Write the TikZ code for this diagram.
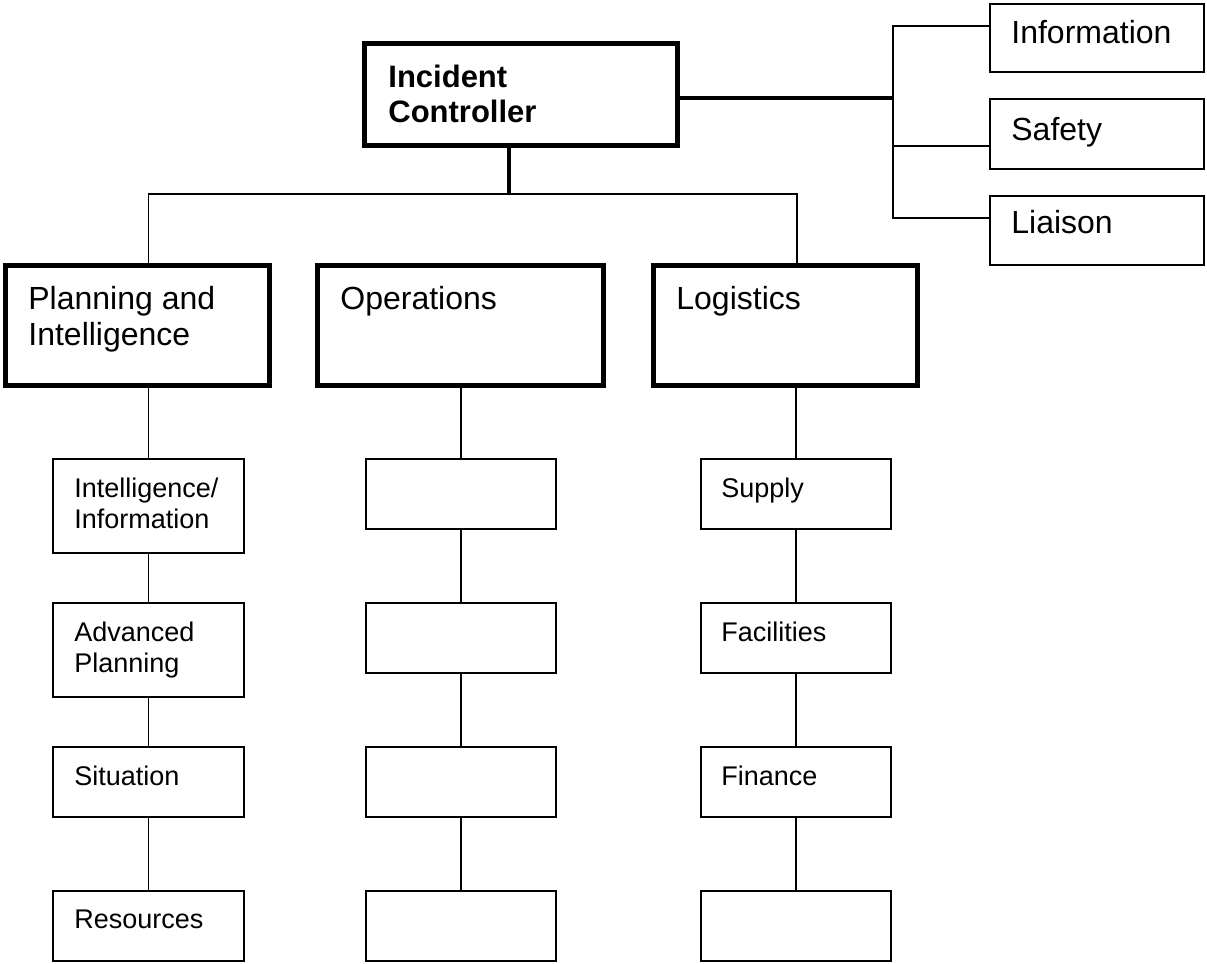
\documentclass[tikz,border=0pt]{standalone}
\usepackage{fontspec}
\setmainfont{Liberation Sans}
\usetikzlibrary{fit}

\tikzset{
  bigbox/.style={draw, line width=2.5pt, inner sep=0pt},
  smallbox/.style={draw, line width=0.75pt, inner sep=0pt},
  bigtxt/.style={anchor=north west, inner sep=0pt, align=left, font=\fontsize{16}{18}\selectfont},
  smalltxt/.style={anchor=north west, inner sep=0pt, align=left, font=\fontsize{13.5}{15.5}\selectfont},
  thin line/.style={line width=0.75pt}
}

\begin{document}
\begin{tikzpicture}[x=0.5pt, y=-0.5pt]
  \useasboundingbox (0,0) rectangle (1207,964);

  % Jefe del incidente
  \node[bigbox, fit={(364.5,43.5) (677.5,145.5)}] (ctrl) {};
  \node[bigtxt, font=\fontsize{15.5}{17.5}\selectfont\bfseries] (ctrl-t) at (388,65) {Incident\\Controller};

  % Cajas a la derecha
  \node[smallbox, fit={(990,4) (1204,72)}] (info) {};
  \node[smallbox, fit={(990,99) (1204,169)}] (safe) {};
  \node[smallbox, fit={(990,196) (1204,265)}] (liai) {};
  \node[bigtxt] (info-t) at (1011,20) {Information};
  \node[bigtxt] (safe-t) at (1011,117) {Safety};
  \node[bigtxt] (liai-t) at (1011,210) {Liaison};

  % Las tres secciones
  \node[bigbox, fit={(5.5,265.5) (269.5,385.5)}] (plan) {};
  \node[bigbox, fit={(317.5,265.5) (603.5,385.5)}] (ops) {};
  \node[bigbox, fit={(653.5,265.5) (917.5,385.5)}] (logi) {};
  \node[bigtxt] (plan-t) at (28,286) {Planning and\\Intelligence};
  \node[bigtxt] (ops-t) at (340,286) {Operations};
  \node[bigtxt] (logi-t) at (676,286) {Logistics};

  % Columna izquierda
  \node[smallbox, fit={(53,459) (244,553)}] (pi1) {};
  \node[smallbox, fit={(53,603) (244,697)}] (pi2) {};
  \node[smallbox, fit={(53,747) (244,817)}] (pi3) {};
  \node[smallbox, fit={(53,891) (244,961)}] (pi4) {};
  \node[smalltxt] (pi1-t) at (74,478) {Intelligence/\\Information};
  \node[smalltxt] (pi2-t) at (74,622) {Advanced\\Planning};
  \node[smalltxt] (pi3-t) at (74,766) {Situation};
  \node[smalltxt] (pi4-t) at (74,910) {Resources};

  % Columnas central y derecha
  \foreach \i/\t in {1/459, 2/603, 3/747, 4/891} {
    \node[smallbox, fit={(366,\t) (556,\t+70)}] (op\i) {};
    \node[smallbox, fit={(701,\t) (891,\t+70)}] (lg\i) {};
  }
  \node[smalltxt] (lg1-t) at (721,478) {Supply};
  \node[smalltxt] (lg2-t) at (721,622) {Facilities};
  \node[smalltxt] (lg3-t) at (721,766) {Finance};

  % Lineas
  \coordinate (busL) at (148.5,194);
  \coordinate (busC) at (509,194);
  \coordinate (busR) at (797,194);
  \draw[line width=1.6pt] (ctrl.south -| busC) -- (busC);
  \draw[thin line] (busL |- plan.north) -- (busL) -- (busR) -- (busR |- logi.north);

  \coordinate (side) at (893,98);
  \coordinate (sideT) at (893,26);
  \coordinate (sideM) at (893,146);
  \coordinate (sideB) at (893,218);
  \draw[line width=2pt] (ctrl.east |- side) -- (side);
  \draw[thin line] (sideT -| info.west) -- (sideT) -- (sideB) -- (sideB -| liai.west);
  \draw[thin line] (sideM) -- (sideM -| safe.west);

  \foreach \c/\m in {pi/plan, op/ops, lg/logi} {
    \draw[thin line] (\m.south -| \c1.north) -- (\c1.north)
      (\c1.south) -- (\c2.north) (\c2.south) -- (\c3.north) (\c3.south) -- (\c4.north);
  }
\end{tikzpicture}
\end{document}
